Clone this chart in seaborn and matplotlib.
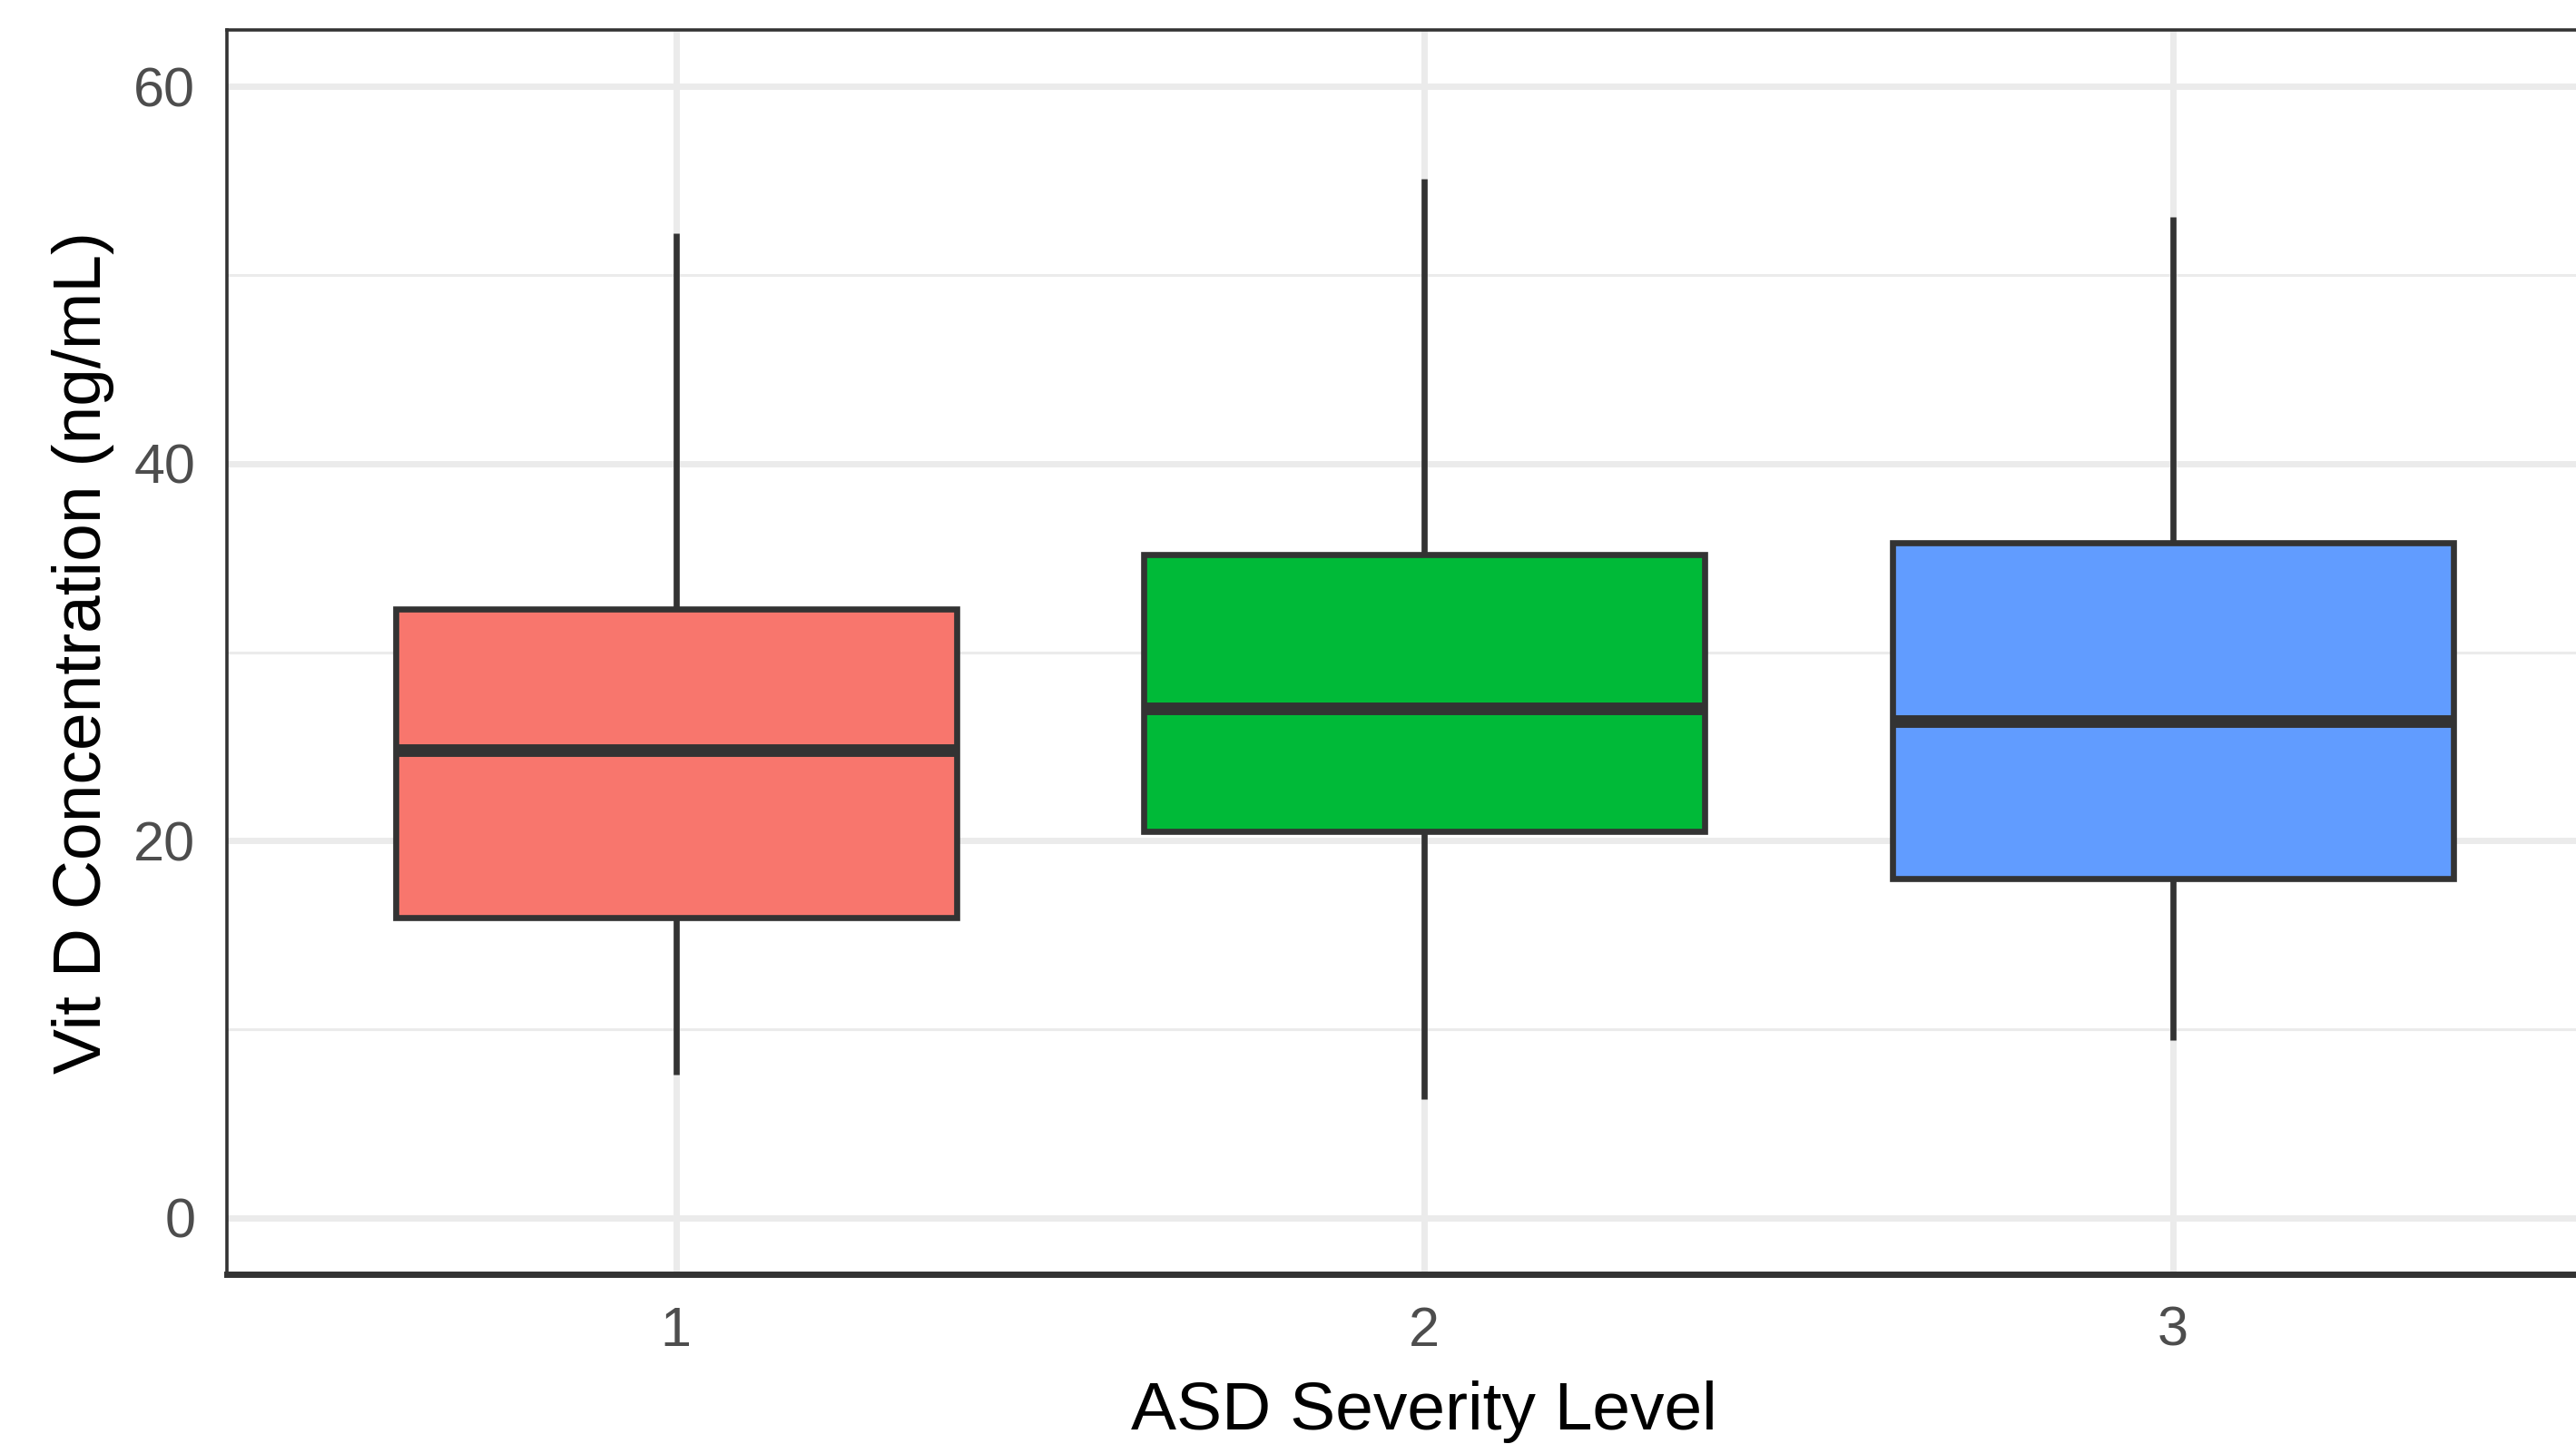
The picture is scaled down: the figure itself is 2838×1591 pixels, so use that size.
import pandas as pd
import matplotlib.pyplot as plt
import matplotlib.ticker as mticker
import seaborn as sns

# Five-number summaries (min, Q1, median, Q3, max)
levels = ["1", "2", "3"]
level1_vals = [7.6, 15.9, 24.8, 32.3, 52.2]
level2_vals = [6.3, 20.5, 27.0, 35.2, 55.1]
level3_vals = [9.4, 18.0, 26.3, 35.8, 53.1]
box_colors = ["#F8766D", "#00BA38", "#619CFF"]
y_ticks = [0, 20, 40, 60]
y_minor = [10, 30, 50]

df = pd.DataFrame({
    "level": [levels[0]] * len(level1_vals) + [levels[1]] * len(level2_vals) + [levels[2]] * len(level3_vals),
    "vitd": level1_vals + level2_vals + level3_vals,
})

sns.set_style("white")
plt.rcParams["font.family"] = ["Liberation Sans", "DejaVu Sans"]

fig = plt.figure(figsize=(28.38, 15.91), dpi=100)
ax = fig.add_axes([0.0881, 0.1175, 0.9297, 0.8617])

sns.boxplot(
    data=df, x="level", y="vitd", hue="level", order=levels, hue_order=levels,
    palette=box_colors, saturation=1, legend=False, width=0.75, whis=(0, 100),
    showcaps=False, fliersize=0, linecolor="#333333", linewidth=4.8,
    medianprops={"linewidth": 10, "color": "#333333"}, ax=ax,
)

ax.set_xlim(-0.6, 2.6)
ax.set_ylim(-3, 63)
ax.set_yticks(y_ticks)
ax.yaxis.set_minor_locator(mticker.FixedLocator(y_minor))
ax.set_axisbelow(True)
ax.grid(which="major", color="#EBEBEB", linewidth=5)
ax.grid(which="minor", axis="y", color="#EBEBEB", linewidth=2.2)

for side in ["left", "top", "right"]:
    ax.spines[side].set_visible(True)
    ax.spines[side].set_color("#333333")
    ax.spines[side].set_linewidth(2.6)
ax.spines["bottom"].set_color("#333333")
ax.spines["bottom"].set_linewidth(5)

ax.tick_params(which="major", length=15, width=4.5, color="#333333",
               labelsize=44, labelcolor="#4D4D4D", pad=10)
ax.tick_params(which="minor", length=0)

ax.set_xlabel("ASD Severity Level", fontsize=54, color="black", labelpad=18)
ax.set_ylabel("Vit D Concentration (ng/mL)", fontsize=54, color="black", labelpad=15)

fig.savefig("out.png", dpi=100)
